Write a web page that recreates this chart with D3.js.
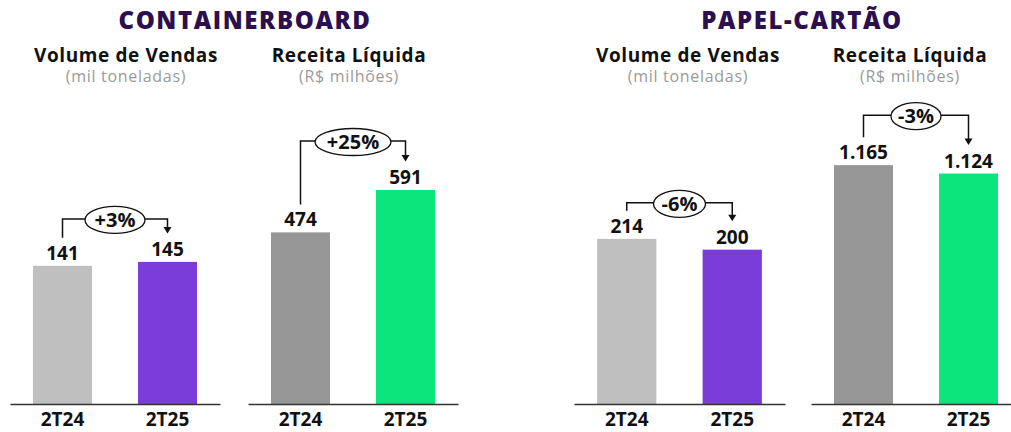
<!DOCTYPE html>
<html>
<head>
<meta charset="utf-8">
<script src="https://cdn.jsdelivr.net/npm/d3@7"></script>
<style>
  html, body { margin: 0; padding: 0; background: #fff; }
  svg { display: block; font-family: "Open Sans", "Noto Sans", sans-serif; }
</style>
</head>
<body>
<svg id="chart" width="1011" height="432"></svg>
<script>
// ---- data ----
const categories = ["2T24", "2T25"];
const groupTitles = ["CONTAINERBOARD", "PAPEL-CARTÃO"];
const metricTitles = ["Volume de Vendas", "Receita Líquida", "Volume de Vendas", "Receita Líquida"];
const metricUnits = ["(mil toneladas)", "(R$ milhões)", "(mil toneladas)", "(R$ milhões)"];
const cbVolume = [141, 145];
const cbRevenue = [474, 591];
const pcVolume = [214, 200];
const pcRevenue = [1165, 1124];
const changeLabels = ["+3%", "+25%", "-6%", "-3%"];

// ---- layout / style ----
const baseY = 404, topY = 110;
const panels = [
  { values: cbVolume,  x0: 10,  x1: 220,  yMax: 300,  colors: ["#bfbfbf", "#7b3dd9"], titleX: 126, bracketOff: 43, rx: 30 },
  { values: cbRevenue, x0: 248, x1: 458,  yMax: 812,  colors: ["#969696", "#0be57b"], titleX: 349, bracketOff: 49, rx: 38 },
  { values: pcVolume,  x0: 574, x1: 785,  yMax: 381,  colors: ["#bfbfbf", "#7b3dd9"], titleX: 688, bracketOff: 36, rx: 26 },
  { values: pcRevenue, x0: 811, x1: 1021, yMax: 1434, colors: ["#969696", "#0be57b"], titleX: 910, bracketOff: 50, rx: 25 }
];
const groupTitleX = [245, 802];

const loc = d3.formatLocale({ decimal: ",", thousands: ".", grouping: [3], currency: ["R$", ""] });
const fmt = loc.format(",d");

const svg = d3.select("#chart");

svg.selectAll("text.group").data(groupTitles).join("text")
  .attr("class", "group")
  .attr("x", (d, i) => groupTitleX[i]).attr("y", 29)
  .attr("text-anchor", "middle")
  .attr("font-size", 24).attr("font-weight", 800)
  .attr("letter-spacing", 1.6)
  .attr("fill", "#2c0f4e")
  .text(d => d);

panels.forEach((p, i) => {
  const g = svg.append("g");
  const x = d3.scaleBand().domain(categories).range([p.x0, p.x1])
    .paddingInner(0.438).paddingOuter(0.219);
  const y = d3.scaleLinear().domain([0, p.yMax]).range([baseY, topY]);

  g.append("text").attr("x", p.titleX).attr("y", 62)
    .attr("text-anchor", "middle").attr("font-size", 19).attr("font-weight", 700)
    .attr("letter-spacing", 0.6)
    .attr("fill", "#111").text(metricTitles[i]);
  g.append("text").attr("x", p.titleX).attr("y", 82)
    .attr("text-anchor", "middle").attr("font-size", 16).attr("font-weight", 400)
    .attr("letter-spacing", 0.7)
    .attr("fill", "#9a9a9a").text(metricUnits[i]);

  g.selectAll("rect").data(p.values).join("rect")
    .attr("x", (d, j) => x(categories[j]))
    .attr("y", d => y(d))
    .attr("width", x.bandwidth())
    .attr("height", d => baseY - y(d))
    .attr("fill", (d, j) => p.colors[j]);

  g.selectAll("text.val").data(p.values).join("text")
    .attr("class", "val")
    .attr("x", (d, j) => x(categories[j]) + x.bandwidth() / 2)
    .attr("y", d => y(d) - 6)
    .attr("text-anchor", "middle").attr("font-size", 19).attr("font-weight", 700)
    .attr("fill", "#111").text(d => fmt(d));

  const ax = g.append("g").attr("transform", `translate(0,${baseY})`)
    .call(d3.axisBottom(x).tickSize(0).tickSizeOuter(0).tickPadding(9));
  ax.select(".domain").attr("stroke", "#333").attr("stroke-width", 1.5);
  ax.selectAll("text").attr("font-size", 19).attr("font-weight", 700)
    .attr("fill", "#111").attr("font-family", "'Open Sans', sans-serif");

  // change bracket
  const cx1 = x(categories[0]) + x.bandwidth() / 2;
  const cx2 = x(categories[1]) + x.bandwidth() / 2;
  const t1 = y(p.values[0]), t2 = y(p.values[1]);
  const by = Math.min(t1, t2) - p.bracketOff;
  const mid = (cx1 + cx2) / 2;
  const rx = p.rx, ry = 13.5;

  g.append("path")
    .attr("d", `M${cx1},${t1 - 28}V${by}H${mid - rx}M${mid + rx},${by}H${cx2}V${t2 - 34}`)
    .attr("fill", "none").attr("stroke", "#111").attr("stroke-width", 1.5);
  g.append("path")
    .attr("d", `M${cx2 - 4},${t2 - 35}L${cx2 + 4},${t2 - 35}L${cx2},${t2 - 28.5}Z`)
    .attr("fill", "#111");
  g.append("ellipse")
    .attr("cx", mid).attr("cy", by + 1).attr("rx", rx).attr("ry", ry)
    .attr("fill", "#fff").attr("stroke", "#111").attr("stroke-width", 1.3);
  g.append("text").attr("x", mid).attr("y", by + 8)
    .attr("text-anchor", "middle").attr("font-size", 20).attr("font-weight", 700)
    .attr("fill", "#111").text(changeLabels[i]);
});
</script>
</body>
</html>
